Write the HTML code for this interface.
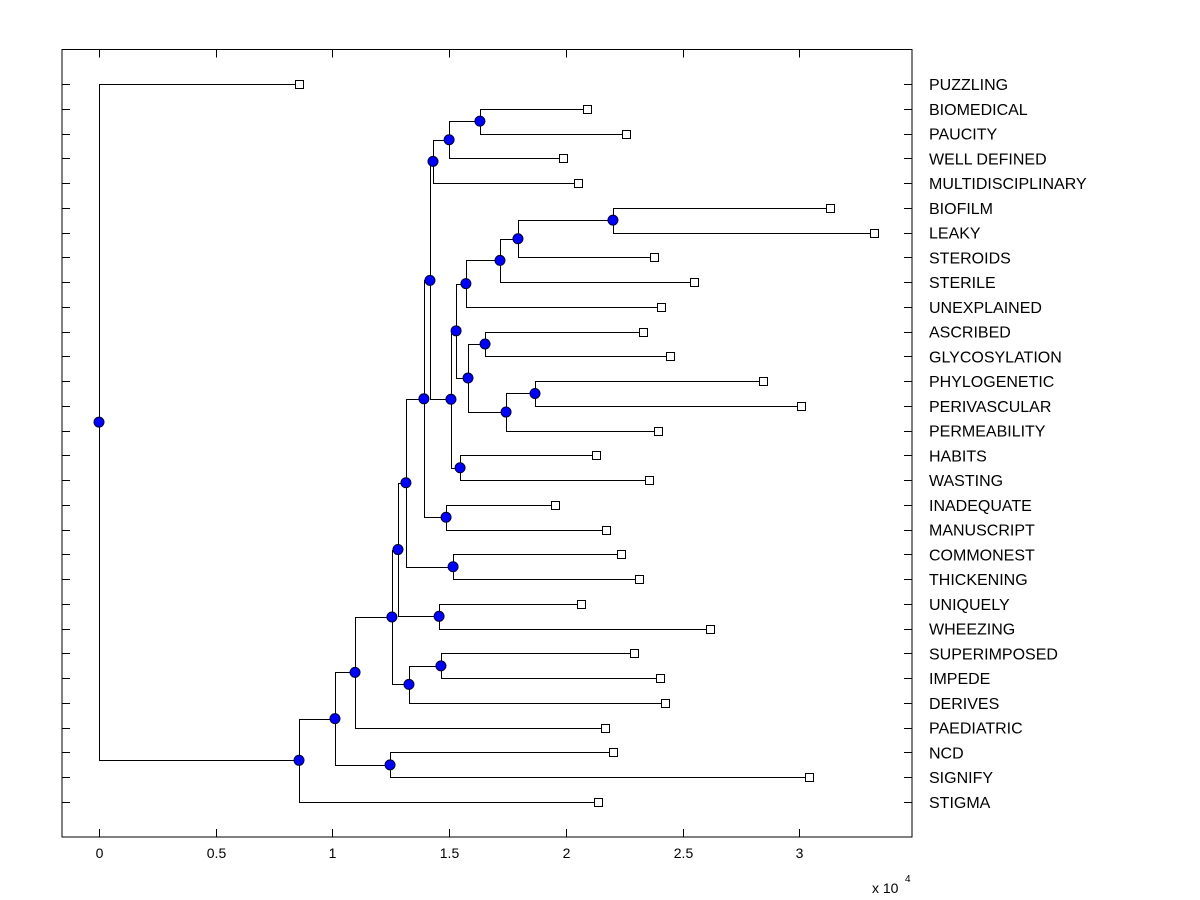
<!DOCTYPE html>
<html><head><meta charset="utf-8"><style>
body{margin:0;background:#fff;}
svg{display:block;font-family:"Liberation Sans",Arial,sans-serif;}
</style></head><body>
<svg id="chart" width="1200" height="900"></svg>
<script>
const leafLabels=["PUZZLING","BIOMEDICAL","PAUCITY","WELL DEFINED","MULTIDISCIPLINARY","BIOFILM","LEAKY","STEROIDS","STERILE","UNEXPLAINED","ASCRIBED","GLYCOSYLATION","PHYLOGENETIC","PERIVASCULAR","PERMEABILITY","HABITS","WASTING","INADEQUATE","MANUSCRIPT","COMMONEST","THICKENING","UNIQUELY","WHEEZING","SUPERIMPOSED","IMPEDE","DERIVES","PAEDIATRIC","NCD","SIGNIFY","STIGMA"];
const leafValues=[0.857,2.091,2.258,1.988,2.052,3.132,3.320,2.378,2.549,2.408,2.331,2.446,2.845,3.008,2.395,2.129,2.356,1.954,2.172,2.236,2.314,2.065,2.618,2.292,2.404,2.425,2.168,2.202,3.042,2.138];
// internal nodes: [name, value, childA, childB]; children are leaf labels or node names
const nodeNames=["q","p","n","x","w","v","t","y","aa","z","u","r","s","o","l","m","j","k","h","i","g","f","e","d","c","ncd","b","a","root"];
const nodeValues=[1.632,1.500,1.431,2.202,1.795,1.718,1.572,1.654,1.868,1.744,1.581,1.530,1.547,1.508,1.418,1.487,1.392,1.517,1.315,1.457,1.465,1.328,1.281,1.255,1.097,1.247,1.011,0.857,0];
const nodeChildren=[["BIOMEDICAL","PAUCITY"],["q","WELL DEFINED"],["p","MULTIDISCIPLINARY"],["BIOFILM","LEAKY"],["x","STEROIDS"],["w","STERILE"],["v","UNEXPLAINED"],["ASCRIBED","GLYCOSYLATION"],["PHYLOGENETIC","PERIVASCULAR"],["aa","PERMEABILITY"],["y","z"],["t","u"],["HABITS","WASTING"],["r","s"],["n","o"],["INADEQUATE","MANUSCRIPT"],["l","m"],["COMMONEST","THICKENING"],["j","k"],["UNIQUELY","WHEEZING"],["SUPERIMPOSED","IMPEDE"],["g","DERIVES"],["h","i"],["e","f"],["d","PAEDIATRIC"],["NCD","SIGNIFY"],["c","ncd"],["b","STIGMA"],["PUZZLING","a"]];
const xTicks=[0,0.5,1,1.5,2,2.5,3];

const svg=document.getElementById('chart');
const NS='http://www.w3.org/2000/svg';
const L=62,R=912,T=49.5,B=837;
const X=v=>99+233.4*v;
const Y=i=>84+i*(802-84)/29;
function mk(tag,attrs,parent){const e=document.createElementNS(NS,tag);for(const k in attrs)e.setAttribute(k,attrs[k]);(parent||svg).appendChild(e);return e;}

const axes=mk('g',{});


const frame=mk('rect',{x:L,y:T,width:R-L,height:B-T,fill:'none',stroke:'#000','stroke-width':1},axes);


xTicks.forEach(t=>{
  const x=Math.round(X(t))+0.5;
  mk('line',{x1:x,x2:x,y1:B,y2:B-8,stroke:'#000'},axes);
  mk('line',{x1:x,x2:x,y1:T,y2:T+8,stroke:'#000'},axes);
  const tx=mk('text',{x:x,y:B+21,'font-size':14,'text-anchor':'middle'},axes);
  tx.textContent=String(t);
  
  
});
const ex=mk('text',{x:872,y:893,'font-size':14},axes);
ex.textContent='x 10';


const sup=mk('text',{x:905,y:882,'font-size':10},axes);
sup.textContent='4';



const pos={};
leafLabels.forEach((l,i)=>{
  const y=Math.round(Y(i))+0.5;
  pos[l]={x:X(leafValues[i]),y:Y(i)};
  mk('line',{x1:L,x2:L+8,y1:y,y2:y,stroke:'#000'},axes);
  mk('line',{x1:R-8,x2:R,y1:y,y2:y,stroke:'#000'},axes);
  const t=mk('text',{x:929,y:Y(i)+6,'font-size':16},axes);
  t.textContent=l;
  
  
});
const tree=mk('g',{});


nodeNames.forEach((n,i)=>{
  const a=pos[nodeChildren[i][0]],b=pos[nodeChildren[i][1]];
  pos[n]={x:X(nodeValues[i]),y:(a.y+b.y)/2};
});
const dots=[];
nodeNames.forEach((n,i)=>{
  const p=pos[n];
  const a=pos[nodeChildren[i][0]],b=pos[nodeChildren[i][1]];
  const px=Math.round(p.x)+0.5;
  const br=mk('path',{d:`M${Math.round(a.x)+0.5},${Math.round(a.y)+0.5}H${px}V${Math.round(b.y)+0.5}H${Math.round(b.x)+0.5}`,fill:'none',stroke:'#000','stroke-width':1},tree);
  
  
  dots.push(p);
});
leafLabels.forEach(l=>{
  const p=pos[l];
  const s=mk('rect',{x:Math.round(p.x)-3.5,y:Math.round(p.y)-3.5,width:8,height:8,fill:'#fff',stroke:'#000'},tree);
  
  
});
dots.forEach(p=>{
  const c=mk('circle',{cx:p.x,cy:p.y,r:5,fill:'#0000ff',stroke:'#000033','stroke-width':1},tree);
  
  
});
</script>
</body></html>
